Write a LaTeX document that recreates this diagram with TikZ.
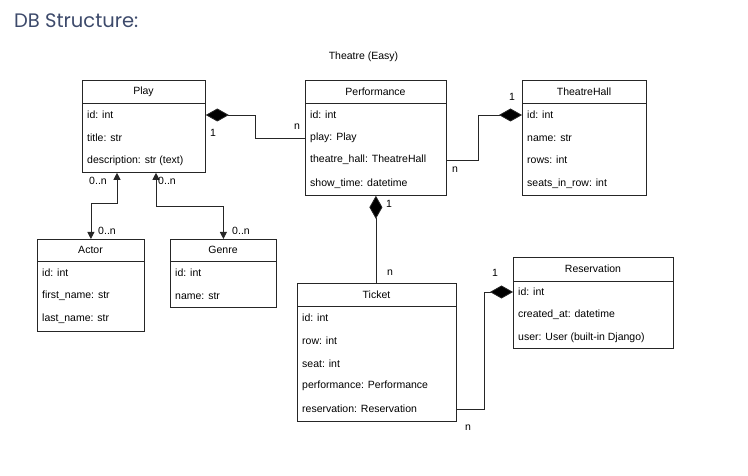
\documentclass[tikz,border=0pt]{standalone}
\usepackage{fontspec}
\setmainfont{Liberation Sans}
\newfontfamily\titlefont{Poppins}
\usetikzlibrary{arrows.meta,calc}
\definecolor{titleblue}{HTML}{3D4A6B}
\tikzset{
  box/.style={draw=black!85, line width=0.8pt, anchor=north west, inner sep=0pt},
  hdr/.style={font=\fontsize{10.5}{12}\selectfont, inner sep=0pt},
  fld/.style={font=\fontsize{10.5}{12}\selectfont, inner sep=0pt, anchor=west},
  lbl/.style={font=\fontsize{10.5}{12}\selectfont, inner sep=0pt},
  conn/.style={draw=black!85, line width=0.8pt},
  comp/.style={conn, {Diamond[length=23pt,width=13pt,fill=black]}-},
  assoc/.style={conn, {Triangle[length=7pt,width=7pt]}-{Triangle[length=7pt,width=7pt]}},
}
\begin{document}
\begin{tikzpicture}[x=1pt,y=-1pt]
\useasboundingbox (0,0) rectangle (748,476);
\node[anchor=west, inner sep=0pt, text=titleblue, font=\titlefont\fontsize{19.5}{22}\selectfont] (ttl) at (14,21) {DB Structure:};
\node[lbl] (sub) at (363.5,57) {Theatre (Easy)};

% Play
\node[box, minimum width=123pt, minimum height=92pt] (play) at (82,80) {};
\draw[conn] (82,103) -- (205,103);
\node[hdr] (playh) at (143.5,91.5) {Play};
\node[fld] (playid) at (87,115) {id: int};
\node[fld] (playtitle) at (87,138) {title: str};
\node[fld] (playdesc) at (87,161) {description: str (text)};

% Performance
\node[box, minimum width=141pt, minimum height=115pt] (perf) at (305,80) {};
\draw[conn] (305,103) -- (446,103);
\node[hdr] (perfh) at (375.5,91.5) {Performance};
\node[fld] (perfid) at (310,115) {id: int};
\node[fld] (perfplay) at (310,138) {play: Play};
\node[fld] (perfhall) at (310,160) {theatre\_hall: TheatreHall};
\node[fld] (perftime) at (310,184) {show\_time: datetime};

% TheatreHall
\node[box, minimum width=124pt, minimum height=115pt] (hall) at (522,80) {};
\draw[conn] (522,103) -- (646,103);
\node[hdr] (hallh) at (584,91.5) {TheatreHall};
\node[fld] (hallid) at (527,115) {id: int};
\node[fld] (hallname) at (527,138) {name: str};
\node[fld] (hallrows) at (527,160) {rows: int};
\node[fld] (hallseats) at (527,184) {seats\_in\_row: int};

% Actor
\node[box, minimum width=107pt, minimum height=92pt] (actor) at (37,239) {};
\draw[conn] (37,261) -- (144,261);
\node[hdr] (actorh) at (90.5,250) {Actor};
\node[fld] (actorid) at (42,273) {id: int};
\node[fld] (actorfn) at (42,296) {first\_name: str};
\node[fld] (actorln) at (42,319) {last\_name: str};

% Genre
\node[box, minimum width=106pt, minimum height=68pt] (genre) at (170,239) {};
\draw[conn] (170,261) -- (276,261);
\node[hdr] (genreh) at (223,250) {Genre};
\node[fld] (genreid) at (175,273) {id: int};
\node[fld] (genrename) at (175,296) {name: str};

% Ticket
\node[box, minimum width=159pt, minimum height=138pt] (ticket) at (297,283) {};
\draw[conn] (297,306) -- (456,306);
\node[hdr] (ticketh) at (376.5,294.5) {Ticket};
\node[fld] (ticketid) at (302,318) {id: int};
\node[fld] (ticketrow) at (302,341) {row: int};
\node[fld] (ticketseat) at (302,364) {seat: int};
\node[fld] (ticketperf) at (302,386) {performance: Performance};
\node[fld] (ticketres) at (302,409) {reservation: Reservation};

% Reservation
\node[box, minimum width=160pt, minimum height=91pt] (res) at (513,257) {};
\draw[conn] (513,281) -- (673,281);
\node[hdr] (resh) at (593,269) {Reservation};
\node[fld] (resid) at (518,292) {id: int};
\node[fld] (rescreated) at (518,315) {created\_at: datetime};
\node[fld] (resuser) at (518,338) {user: User (built-in Django)};

% Connectors
\draw[comp] (play.east |- playid) -- ++(50,0) |- (perf.west |- perfplay);
\node[lbl] (l1) at (213,133) {1};
\node[lbl] (l2) at (297,127) {n};

\draw[comp] (hall.west |- hallid) -- ++(-44,0) |- (perf.east |- perfhall);
\node[lbl] (l3) at (512,97) {1};
\node[lbl] (l4) at (455,170) {n};

\draw[comp] (perf.south) -- (perf.south |- ticket.north);
\node[lbl] (l5) at (389,204) {1};
\node[lbl] (l6) at (390,273) {n};

\draw[comp] (res.west |- resid) -- ++(-29,0) |- (ticket.east |- ticketres);
\node[lbl] (l7) at (495,273) {1};
\node[lbl] (l8) at (468,428) {n};

\draw[assoc] ($(play.south west)+(35,0)$) -- ++(0,31) -| (actor.north);
\node[lbl] (l9) at (98,181) {0..n};
\node[lbl] (l10) at (107,231) {0..n};

\draw[assoc] ($(play.south west)+(74,0)$) -- ++(0,34) -| (genre.north);
\node[lbl] (l11) at (167,181) {0..n};
\node[lbl] (l12) at (241,231) {0..n};
\end{tikzpicture}
\end{document}
